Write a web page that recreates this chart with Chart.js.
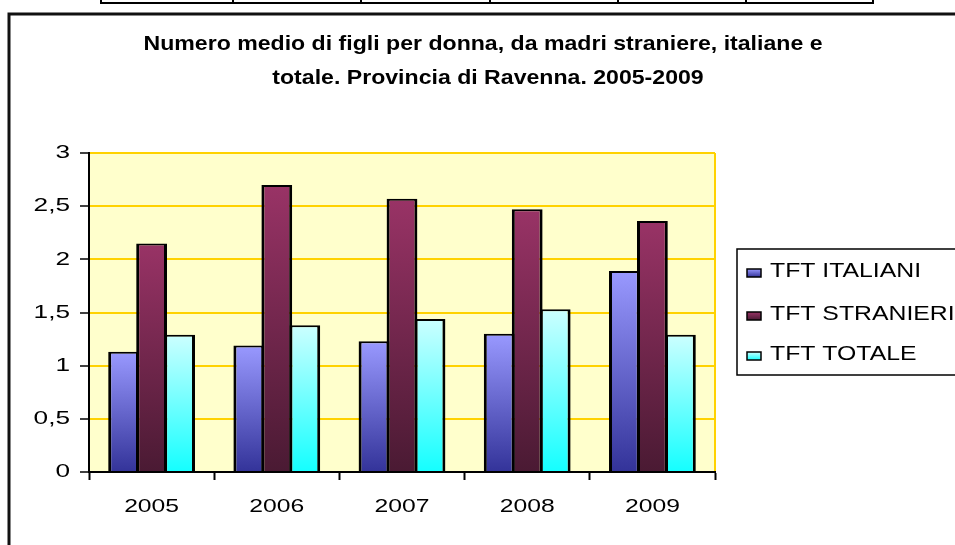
<!DOCTYPE html>
<html>
<head>
<meta charset="utf-8">
<script src="https://cdn.jsdelivr.net/npm/chart.js@4.4.0/dist/chart.umd.min.js"></script>
<style>
  html, body { margin: 0; padding: 0; background: #fff; }
  #wrap { width: 955px; height: 545px; position: relative; }
</style>
</head>
<body>
<div id="wrap"><canvas id="myChart"></canvas></div>
<script>
// dati
var years = ["2005", "2006", "2007", "2008", "2009"];
var tftItaliani = [1.13, 1.19, 1.23, 1.30, 1.89];
var tftStranieri = [2.15, 2.70, 2.57, 2.47, 2.36];
var tftTotale = [1.29, 1.38, 1.44, 1.53, 1.29];
var seriesNames = ["TFT ITALIANI", "TFT STRANIERI", "TFT TOTALE"];
var titleLines = [
  "Numero medio di figli per donna, da madri straniere, italiane e",
  "totale. Provincia di Ravenna. 2005-2009"
];

// colori: [alto, basso]
var shades = [
  ["#9999FF", "#333399"],
  ["#993366", "#4A1A33"],
  ["#CCFFFF", "#14FFFF"]
];

var FONT = "'Liberation Sans', Arial, sans-serif";

// the original picture has its text a bit stretched horizontally
var stretchText = (c, text, x, y, sx, align) => {
  c.save();
  c.translate(x, y);
  c.scale(sx, 1);
  c.textAlign = align;
  c.fillText(text, 0, 0);
  c.restore();
};

var fmtNum = v => String(v).replace(".", ",");

// gradient per ogni barra (chiaro in alto, scuro in basso)
var barFill = idx => ctx => {
  var chart = ctx.chart;
  var area = chart.chartArea;
  if (!area || ctx.raw === undefined) return shades[idx][0];
  var y = chart.scales.y;
  var top = y.getPixelForValue(ctx.raw);
  var bottom = y.getPixelForValue(0);
  var g = chart.ctx.createLinearGradient(0, top, 0, bottom);
  g.addColorStop(0, shades[idx][0]);
  g.addColorStop(1, shades[idx][1]);
  return g;
};

var decor = {
  id: "decor",
  beforeDraw(chart) {
    var c = chart.ctx, a = chart.chartArea;
    c.save();
    c.fillStyle = "#FFFFCC";
    c.fillRect(a.left, a.top, a.right - a.left, a.bottom - a.top);
    c.strokeStyle = "#FFD200";
    c.lineWidth = 2;
    c.beginPath();
    c.moveTo(a.right, a.top);
    c.lineTo(a.right, a.bottom);
    c.stroke();
    c.restore();
  },
  afterDraw(chart) {
    var c = chart.ctx;
    var xs = chart.scales.x, ys = chart.scales.y;
    c.save();

    // pezzo di tabella in alto
    c.strokeStyle = "#000";
    c.lineWidth = 2;
    c.beginPath();
    c.moveTo(100, 3);
    c.lineTo(874, 3);
    [101, 233, 361, 490, 618, 746, 873].forEach(x => {
      c.moveTo(x, 0);
      c.lineTo(x, 4);
    });
    c.stroke();

    // cornice del grafico
    c.lineWidth = 3;
    c.strokeStyle = "#111";
    c.beginPath();
    c.moveTo(9, 560);
    c.lineTo(9, 14);
    c.lineTo(960, 14);
    c.stroke();

    c.fillStyle = "#000";
    c.textBaseline = "middle";

    // titolo
    c.font = "bold 21px " + FONT;
    stretchText(c, titleLines[0], 483, 44, 1.1, "center");
    stretchText(c, titleLines[1], 488, 78, 1.1, "center");

    // etichette degli assi
    c.font = "19px " + FONT;
    ys.ticks.forEach(t => {
      stretchText(c, fmtNum(t.value), 70, ys.getPixelForValue(t.value), 1.38, "right");
    });
    years.forEach((yr, i) => {
      stretchText(c, yr, xs.getPixelForTick(i), 507, 1.3, "center");
    });

    // legenda
    c.lineWidth = 1.5;
    c.strokeStyle = "#000";
    c.strokeRect(737, 249, 240, 126);
    var rows = [270, 313, 353];
    c.font = "20px " + FONT;
    seriesNames.forEach((name, i) => {
      var y = rows[i];
      var g = c.createLinearGradient(0, y - 1, 0, y + 7);
      g.addColorStop(0, shades[i][0]);
      g.addColorStop(1, shades[i][1]);
      c.fillStyle = g;
      c.fillRect(747, y - 1, 14, 8);
      c.strokeRect(747, y - 1, 14, 8);
      c.fillStyle = "#000";
      stretchText(c, name, 770, y + 1, 1.24, "left");
    });
    c.restore();
  }
};

var ctx = document.getElementById("myChart");
var chart = new Chart(ctx, {
  type: "bar",
  data: {
    labels: years,
    datasets: [
      { label: seriesNames[0], data: tftItaliani, backgroundColor: barFill(0) },
      { label: seriesNames[1], data: tftStranieri, backgroundColor: barFill(1) },
      { label: seriesNames[2], data: tftTotale, backgroundColor: barFill(2) }
    ]
  },
  options: {
    responsive: true,
    maintainAspectRatio: false,
    animation: false,
    layout: { padding: { left: 0, top: 153, right: 240, bottom: 0 } },
    datasets: {
      bar: {
        borderColor: "#000",
        borderWidth: { top: 2, left: 3, right: 3, bottom: 0 },
        borderSkipped: false,
        categoryPercentage: 0.671,
        barPercentage: 1.1
      }
    },
    plugins: {
      legend: { display: false },
      title: { display: false },
      tooltip: { enabled: false }
    },
    scales: {
      x: {
        afterFit: scale => { scale.height = 73; },
        grid: {
          drawOnChartArea: false,
          tickLength: 8,
          tickColor: "#000",
          tickWidth: 2
        },
        border: { color: "#000", width: 2 },
        ticks: { display: false }
      },
      y: {
        min: 0,
        max: 3,
        afterFit: scale => { scale.width = 89; },
        grid: {
          color: "#FFD200",
          lineWidth: 2,
          tickLength: 9,
          tickColor: "#000",
          tickWidth: 1.5
        },
        border: { color: "#000", width: 2 },
        ticks: { display: false, stepSize: 0.5 }
      }
    }
  },
  plugins: [decor]
});
</script>
</body>
</html>
